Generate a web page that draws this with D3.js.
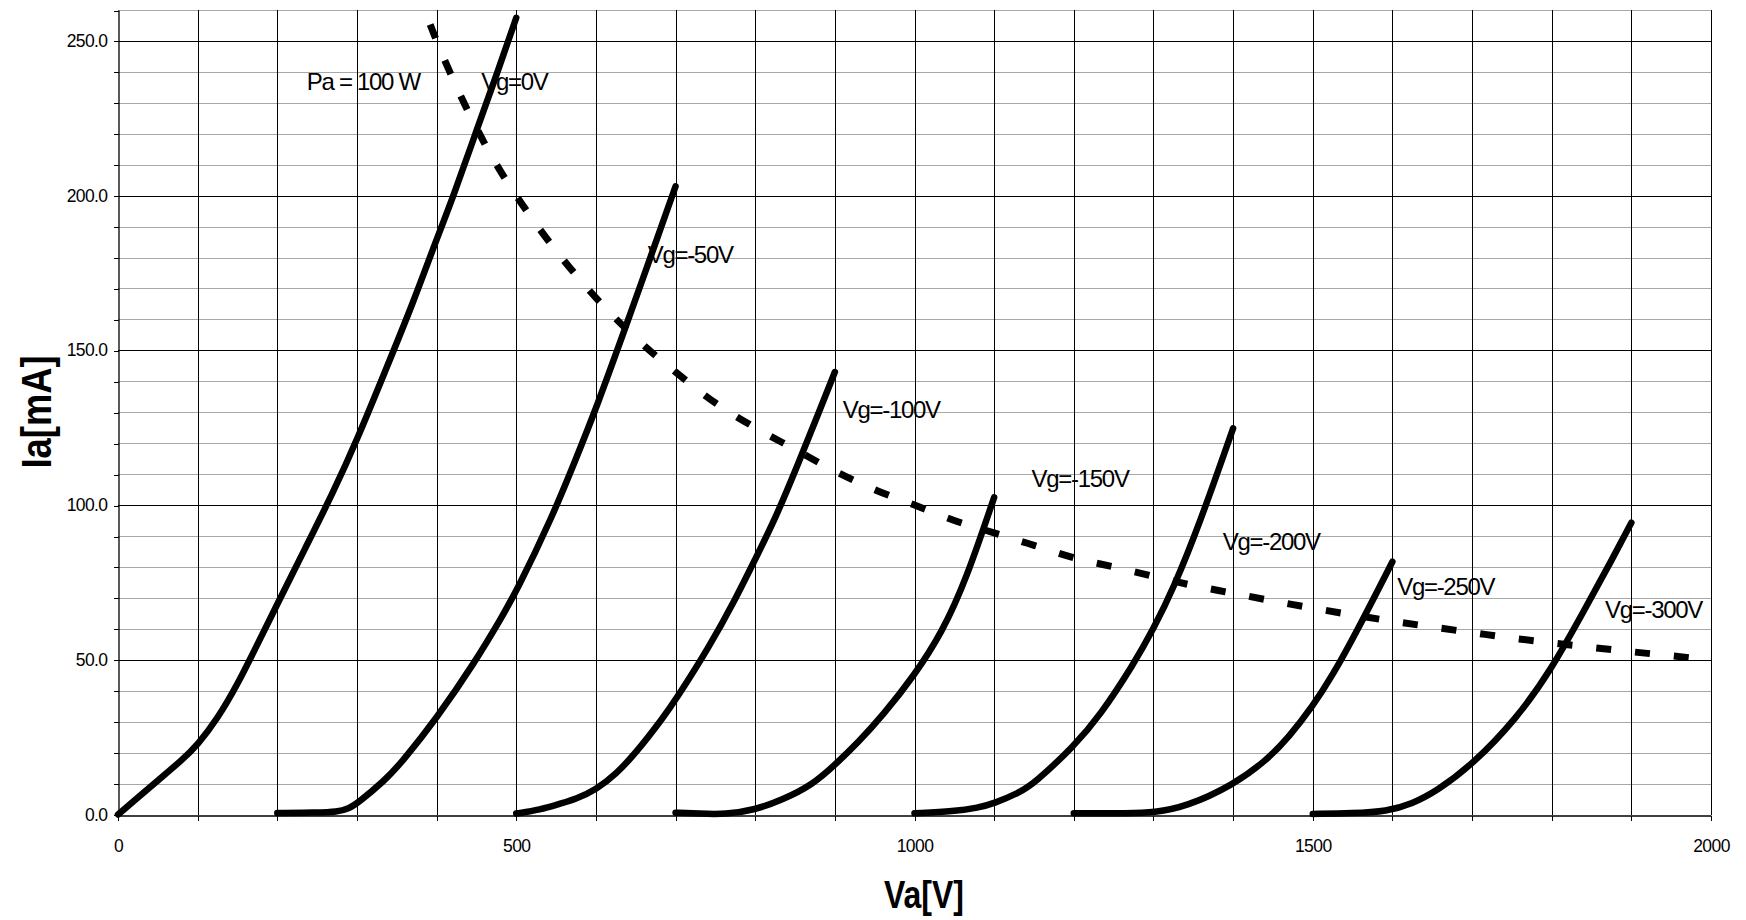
<!DOCTYPE html>
<html><head><meta charset="utf-8">
<script src="https://cdn.jsdelivr.net/npm/d3@7/dist/d3.min.js"></script>
<style>
body{margin:0;background:#fff}
svg{display:block}
text{font-family:"Liberation Sans",Arial,Helvetica,sans-serif;fill:#000}
</style>
</head><body>
<svg id="chart" width="1746" height="920"></svg>
<script>
// ---- data ----
const xTicks = [0, 500, 1000, 1500, 2000];
const yTicks = [0, 50, 100, 150, 200, 250];

const vg0_va   = [0, 25, 50, 80, 100, 125, 150, 175, 200, 235, 270, 300, 335, 370, 400, 420, 450, 478, 500];
const vg0_ia   = [0, 5.5, 11, 17.5, 22.5, 31, 42, 55, 68, 86, 104, 121, 143, 165, 186, 199, 221, 241, 257.5];

const vg50_va  = [200, 250, 275, 290, 300, 335, 355, 400, 450, 480, 500, 545, 575, 600, 638, 667, 700];
const vg50_ia  = [0.5, 0.6, 0.8, 2, 3.5, 11, 16.5, 31, 50, 63, 72, 96, 115, 131, 158, 179, 203];

const vg100_va = [500, 530, 555, 575, 600, 625, 650, 685, 700, 742, 776, 800, 826, 855, 880, 900];
const vg100_ia = [0.3, 1.5, 3.5, 5, 8, 13, 19.8, 31.5, 37, 54, 70, 82.5, 96, 114, 130, 143];

const vg150_va = [700, 730, 762, 800, 834, 872, 900, 930, 960, 1000, 1035, 1065, 1100];
const vg150_ia = [0.6, 0.3, 0, 1.5, 4.7, 9.6, 16, 23.5, 32, 45, 59, 76, 102.5];

const vg200_va = [1000, 1050, 1080, 1100, 1131, 1150, 1200, 1233, 1275, 1300, 1325, 1358, 1400];
const vg200_ia = [0.4, 1, 2.2, 3.6, 7, 10, 22, 32, 48.5, 60, 73, 94, 124.8];

const vg250_va = [1200, 1270, 1300, 1341, 1400, 1442, 1470, 1500, 1525, 1555, 1600];
const vg250_ia = [0.4, 0.4, 0.6, 2.5, 9.5, 17.5, 25, 35, 45, 59, 81.7];

const vg300_va = [1500, 1550, 1593, 1625, 1655, 1700, 1756, 1800, 1843, 1877, 1900];
const vg300_ia = [0.2, 0.4, 1, 3.5, 7.5, 16, 31, 47, 67, 83, 94.3];

const pa_va = [385, 400, 420, 440, 460, 480, 500, 530, 560, 600, 650, 700, 750, 800, 850, 900, 950, 1000, 1050, 1100, 1150, 1200, 1250, 1300, 1350, 1400, 1450, 1500, 1550, 1600, 1650, 1700, 1750, 1800, 1850, 1900, 1950, 1972];
const pa_ia = [260, 250, 238, 227, 217, 208, 200, 189, 179, 167, 154, 143, 133, 125, 118, 111, 105, 100, 95, 91, 87, 83, 80, 77, 74, 71.5, 69, 66.7, 64.5, 62.5, 60.6, 58.8, 57, 55.5, 54, 52.6, 51.3, 50.7];

const labelTexts = ["Pa = 100 W", "Vg=0V", "Vg=-50V", "Vg=-100V", "Vg=-150V", "Vg=-200V", "Vg=-250V", "Vg=-300V"];
const labelVa    = [237, 456, 665, 910, 1147, 1387, 1606, 1867];
const labelIa    = [234.2, 234.2, 178.3, 128.2, 105.9, 85.5, 71, 63.5];

// ---- chart ----
const svg = d3.select("#chart");
svg.append("rect").attr("width", 1746).attr("height", 920).attr("fill", "#fff");

const x = d3.scaleLinear().domain([0, 2000]).range([118, 1711]);
const y = d3.scaleLinear().domain([0, 260]).range([814.5, 10]);

const crisp = v => Math.round(v) + 0.5;

// horizontal grid
const hg = svg.append("g");
d3.range(10, 261, 10).forEach(v => {
  const major = v % 50 === 0;
  hg.append("line")
    .attr("x1", x(0)).attr("x2", x(2000))
    .attr("y1", crisp(y(v))).attr("y2", crisp(y(v)))
    .attr("stroke", major ? "#000" : "#a8a8a8")
    .attr("stroke-width", 1)
    .attr("shape-rendering", "crispEdges");
});
// vertical grid
d3.range(100, 2001, 100).forEach(v => {
  hg.append("line")
    .attr("x1", crisp(x(v))).attr("x2", crisp(x(v)))
    .attr("y1", y(260)).attr("y2", y(0))
    .attr("stroke", "#000").attr("stroke-width", 1)
    .attr("shape-rendering", "crispEdges");
});

// axes
const yAxis = d3.axisLeft(y)
  .tickValues(d3.range(0, 261, 10))
  .tickSize(5).tickSizeOuter(0).tickPadding(6)
  .tickFormat(d => yTicks.includes(d) ? d3.format(".1f")(d) : "");
const gy = svg.append("g").attr("transform", "translate(" + crisp(x(0)) + ",0)").call(yAxis);

const xAxis = d3.axisBottom(x)
  .tickValues(d3.range(0, 2001, 100))
  .tickSize(5).tickSizeOuter(0).tickPadding(19)
  .tickFormat(d => xTicks.includes(d) ? String(d) : "");
const gx = svg.append("g").attr("transform", "translate(0," + crisp(y(0)) + ")").call(xAxis);

[gx, gy].forEach(g => {
  g.select(".domain").attr("stroke", "#000").attr("stroke-width", 1.3);
  g.selectAll(".tick line").attr("stroke", "#000").attr("shape-rendering", "crispEdges");
  g.selectAll(".tick text")
    .attr("font-family", "'Liberation Sans', Arial, sans-serif")
    .attr("font-size", 17.5).attr("letter-spacing", -0.6).attr("fill", "#000");
});
gy.selectAll(".tick line").attr("y1", 0.5).attr("y2", 0.5);

// clip
svg.append("clipPath").attr("id", "plotclip")
  .append("rect").attr("x", x(0)).attr("y", y(260)).attr("width", x(2000) - x(0)).attr("height", y(0) - y(260));

const dashLine = d3.line().x(d => x(d[0])).y(d => y(d[1])).curve(d3.curveMonotoneX);
const smoothLine = d3.line().x(d => x(d[0])).y(d => y(d[1])).curve(d3.curveBasis);
const zip = (a, b) => a.map((v, i) => [v, b[i]]);

const curves = [
  zip(vg0_va, vg0_ia), zip(vg50_va, vg50_ia), zip(vg100_va, vg100_ia), zip(vg150_va, vg150_ia),
  zip(vg200_va, vg200_ia), zip(vg250_va, vg250_ia), zip(vg300_va, vg300_ia)
];

const plot = svg.append("g").attr("clip-path", "url(#plotclip)");

// Pa = 100 W dashed hyperbola (pattern phased so the last dash ends at the last point)
const dashPath = plot.append("path")
  .datum(zip(pa_va, pa_ia))
  .attr("d", dashLine)
  .attr("fill", "none").attr("stroke", "#000")
  .attr("stroke-width", 7)
  .attr("stroke-dasharray", "15,24")
  .attr("stroke-linecap", "butt");
const L = dashPath.node().getTotalLength();
dashPath.attr("stroke-dashoffset", ((15 - (L % 39)) + 39) % 39);

// characteristic curves
svg.append("g").selectAll("path").data(curves).join("path")
  .attr("d", smoothLine)
  .attr("fill", "none").attr("stroke", "#000")
  .attr("stroke-width", 6.5)
  .attr("stroke-linecap", "round").attr("stroke-linejoin", "round");

// curve labels
svg.append("g").selectAll("text").data(labelTexts).join("text")
  .attr("x", (d, i) => x(labelVa[i]))
  .attr("y", (d, i) => y(labelIa[i]))
  .attr("font-size", 24).attr("letter-spacing", -1.3)
  .text(d => d);

// axis titles
svg.append("text")
  .attr("x", 924).attr("y", 908)
  .attr("text-anchor", "middle")
  .attr("font-size", 38).attr("font-weight", "bold")
  .attr("textLength", 80).attr("lengthAdjust", "spacingAndGlyphs")
  .text("Va[V]");

svg.append("text")
  .attr("transform", "translate(51,412) rotate(-90)")
  .attr("text-anchor", "middle")
  .attr("font-size", 42).attr("font-weight", "bold")
  .attr("textLength", 113).attr("lengthAdjust", "spacingAndGlyphs")
  .text("Ia[mA]");
</script>
</body></html>
